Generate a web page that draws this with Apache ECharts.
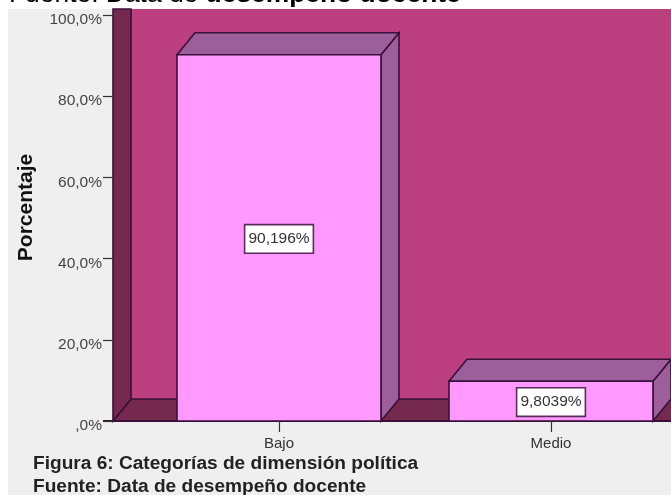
<!DOCTYPE html>
<html><head><meta charset="utf-8">
<style>html,body{margin:0;padding:0;background:#fff;overflow:hidden}#c{width:671px;height:495px}</style>
<script src="https://cdn.jsdelivr.net/npm/echarts@6/dist/echarts.min.js"></script>
</head><body><div id="c"></div>
<script>
const categories = ['Bajo', 'Medio'];
const percentages = [90.196, 9.8039];
const barLabels = ['90,196%', '9,8039%'];
const yTicks = [0, 20, 40, 60, 80, 100];
const headerText = ['Fuente: Data de ', 'desempeño docente'];
const captionLines = ['Figura 6: Categorías de dimensión política', 'Fuente: Data de desempeño docente'];

const FONT = '"Liberation Sans", Arial, sans-serif';
const DX = 18, DY = 22, LINE = '#3A0F3A', W_BACK = '#BC3F7F', W_DARK = '#75294F',
      FRONT = '#FF99FF', SIDE = '#9C5F9C', OVER = 6;
const lineStyle = {stroke: LINE, lineWidth: 1.6};
const poly = (pts, fill) => ({type: 'polygon', shape: {points: pts}, style: {fill, ...lineStyle}});

const chart = echarts.init(document.getElementById('c'), null, {renderer: 'canvas'});
chart.setOption({
  animation: false,
  backgroundColor: '#FFFFFF',
  grid: {left: 143, top: 15, right: -16, bottom: 74, containLabel: false, outerBoundsMode: 'none'},
  graphic: [
    {type: 'text', z: -2, left: 9, top: -18, style: {
      rich: {a: {font: '26.4px ' + FONT, fill: '#000'}, b: {font: 'bold 26.4px ' + FONT, fill: '#000'}},
      text: '{a|' + headerText[0] + '}{b|' + headerText[1] + '}'}},
    {type: 'rect', z: -1, shape: {x: 8, y: 9, width: 663, height: 486}, style: {fill: '#EFEFEF'}},
    {type: 'text', z: 20, left: 33, top: 454, style: {text: captionLines[0],
      font: 'bold 19.1px ' + FONT, fill: '#222'}},
    {type: 'text', z: 20, left: 33, top: 477, style: {text: captionLines[1],
      font: 'bold 19.1px ' + FONT, fill: '#222'}}
  ],
  xAxis: {
    type: 'category', data: categories, z: 6,
    axisLine: {show: false},
    axisTick: {show: true, alignWithLabel: true, length: 11, lineStyle: {color: '#333', width: 1.2}},
    axisLabel: {color: '#333', fontFamily: FONT, fontSize: 15, margin: 15},
    splitLine: {show: false}
  },
  yAxis: {
    type: 'value', min: 0, max: 100, interval: 20, offset: 30, z: 6,
    name: 'Porcentaje', nameLocation: 'middle', nameGap: 76,
    nameTextStyle: {color: '#111', fontFamily: FONT, fontWeight: 'bold', fontSize: 21, padding: [0, 0, 0, 21]},
    axisLine: {show: false},
    axisTick: {show: true, length: 10, lineStyle: {color: '#333', width: 1.2}},
    axisLabel: {color: '#444', fontFamily: FONT, fontSize: 15.5, margin: 11, verticalAlign: 'top', lineHeight: 10,
      formatter: v => (v === 0 ? ',0%' : v.toFixed(1).replace('.', ',') + '%')},
    splitLine: {show: false}
  },
  series: [
    {
      type: 'custom', coordinateSystem: 'cartesian2d', clip: false, z: 2, silent: true,
      data: [[yTicks[0]]],
      renderItem(params, api) {
        const g = params.coordSys;
        const y0 = api.coord([0, 0])[1];
        const yT = api.coord([0, 100])[1] - OVER;
        const xL = g.x - 30, xR = g.x + g.width;
        return {type: 'group', children: [
          {type: 'rect', shape: {x: xL + DX, y: yT, width: xR - xL, height: y0 - DY - yT},
            style: {fill: W_BACK}},
          poly([[xL, y0], [xL + DX, y0 - DY], [xR, y0 - DY], [xR, y0]], W_DARK),
          poly([[xL, y0], [xL + DX, y0 - DY], [xL + DX, yT], [xL, yT]], W_DARK),
          {type: 'line', shape: {x1: xL - 10, y1: y0, x2: xR, y2: y0},
            style: {stroke: LINE, lineWidth: 2}}
        ]};
      }
    },
    {
      type: 'custom', coordinateSystem: 'cartesian2d', clip: false, z: 3, silent: true,
      encode: {x: 0, y: 1},
      data: categories.map((c, i) => [i, percentages[i], barLabels[i]]),
      renderItem(params, api) {
        const top = api.coord([api.value(0), api.value(1)]);
        const base = api.coord([api.value(0), 0]);
        const w = api.size([1, 0])[0] * 0.75;
        const l = top[0] - w / 2, r = top[0] + w / 2, t = top[1], b = base[1];
        return {type: 'group', children: [
          poly([[r, b], [r + DX, b - DY], [r + DX, t - DY], [r, t]], SIDE),
          poly([[l, t], [l + DX, t - DY], [r + DX, t - DY], [r, t]], SIDE),
          {type: 'rect', shape: {x: l, y: t, width: w, height: b - t},
            style: {fill: FRONT, ...lineStyle}},
          {type: 'text', x: top[0], y: (t + b) / 2 + 1, style: {
            text: barLabels[params.dataIndex], font: '15.5px ' + FONT, fill: '#333',
            align: 'center', verticalAlign: 'middle',
            backgroundColor: '#FFFFFF', borderColor: '#5A2A5A', borderWidth: 1.6,
            padding: [6, 3, 5, 3]}}
        ]};
      }
    }
  ]
});
</script></body></html>
